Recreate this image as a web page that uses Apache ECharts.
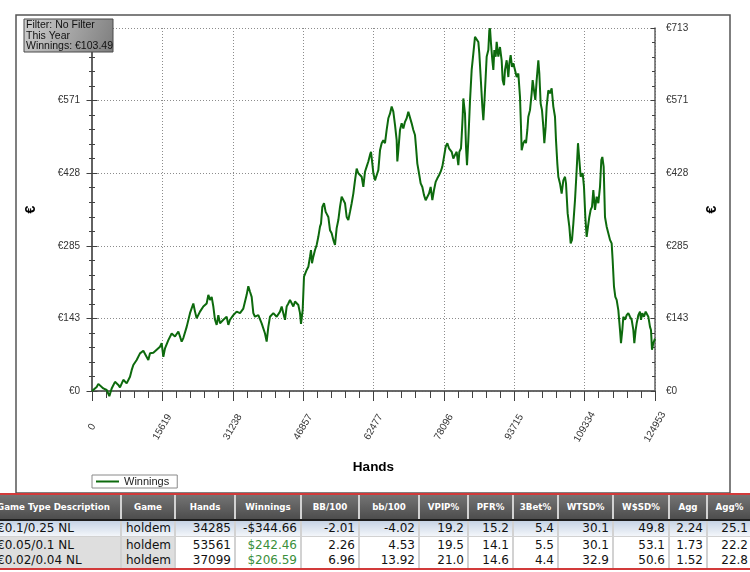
<!DOCTYPE html>
<html><head><meta charset="utf-8">
<script src="https://cdn.jsdelivr.net/npm/echarts@6/dist/echarts.min.js"></script>
<style>
html,body{margin:0;padding:0;width:750px;height:572px;overflow:hidden;background:#fff;}
#chart{position:absolute;left:0;top:0;width:750px;height:572px;}
#tbl{position:absolute;left:0;top:493px;width:750px;height:79px;overflow:hidden;background:#d2d2d2;font-family:"DejaVu Sans",Verdana,sans-serif;}
.cell{position:absolute;box-sizing:border-box;white-space:nowrap;overflow:hidden;}
</style></head><body>
<div id="chart"></div>
<div id="tbl"></div>
<script>
// ---- chart data ----
const hands = [0,296,1036,1405,1776,2515,3255,3847,4365,5105,5844,6214,6954,7694,8434,8804,9173,9913,10653,11393,12133,12502,12873,13612,14352,15092,15462,15832,16202,16942,17681,18421,19161,19531,19901,20270,21011,21750,22490,22860,23230,23970,24710,25450,25819,26189,26559,26929,27299,27669,28038,28408,29148,29888,30257,30628,31367,32107,32847,33587,34327,34696,35067,35437,35806,36176,36916,37656,38026,38396,38766,39135,39505,40245,40985,41725,42095,42464,42834,43204,43574,43944,44684,45054,45793,46164,46385,46756,47053,47643,48013,48383,48605,48827,49123,49493,49863,50232,50602,50824,51120,51490,51860,52082,52451,52822,53192,53561,53931,54301,54671,55041,55411,55781,56151,56521,56890,57261,57631,58000,58370,58740,59110,59480,59850,60220,60590,60960,61330,61699,61921,62217,62439,62809,63179,63549,63919,64289,64659,65028,65398,65768,66138,66508,66878,67248,67618,67766,67988,68358,68728,69097,69468,69838,70207,70577,70947,71317,71687,71909,72205,72575,72945,73315,73685,74055,74424,74795,75164,75534,75905,76274,76644,77015,77384,77754,78124,78494,78864,79234,79604,79826,80194,80564,80934,81304,81526,81896,82044,82266,82414,82784,83006,83228,83524,83893,84263,84633,85003,85373,85743,85965,86261,86631,86853,87074,87371,87593,87962,88184,88332,88554,88850,89072,89294,89590,89812,90181,90551,90921,91143,91439,91661,92031,92400,92622,92919,93215,93511,93881,94251,94620,94990,95212,95360,95730,96100,96322,96617,96839,97210,97580,97801,98097,98393,98689,99059,99281,99577,99873,100169,100391,100687,100908,101278,101649,102018,102388,102758,102980,103276,103498,103868,104238,104608,104978,105200,105570,105940,106236,106532,106827,107197,107567,107863,108159,108455,108899,109194,109490,109786,110082,110378,110674,110970,111265,111635,112005,112375,112745,113041,113263,113559,113855,114225,114594,114965,115334,115556,115852,116148,116444,116814,117184,117406,117702,117924,118294,118664,119033,119404,119774,120144,120365,120661,120883,121253,121623,121845,122141,122510,122881,123103,123472,123843,124064,124286,124582,124953];
const winnings = [0,2,8,14,12,5,2,-10,5,18,12,7,22,15,28,41,51,61,74,79,67,61,74,75,81,87,94,67,84,100,113,107,117,107,97,104,126,153,172,156,143,156,166,172,189,179,185,166,140,130,149,133,140,146,130,140,149,156,153,162,189,206,195,185,153,146,149,133,130,113,97,126,146,153,146,156,166,153,140,166,172,179,166,176,169,153,132,159,225,238,244,264,277,251,264,277,287,303,323,329,362,369,352,349,342,316,310,297,287,320,336,362,382,385,369,342,336,352,369,388,414,437,428,431,421,401,431,441,451,464,470,447,428,414,424,434,473,487,493,487,513,536,545,559,549,523,493,451,473,513,526,516,529,536,549,552,526,513,503,480,447,428,408,401,385,375,372,388,401,375,395,411,418,424,431,441,460,480,487,477,480,470,457,464,470,444,470,477,500,539,575,545,480,444,493,570,631,663,696,699,686,663,617,559,532,565,617,657,670,709,713,683,650,631,670,657,686,657,676,650,611,601,631,650,617,644,660,637,644,631,617,624,578,519,473,487,493,487,513,539,552,585,611,591,572,611,650,624,565,552,519,487,519,559,591,585,595,559,539,493,447,421,408,388,414,421,408,349,323,290,297,329,375,434,487,454,421,428,401,342,303,323,342,356,362,395,356,382,369,401,454,460,441,342,323,310,297,290,257,205,185,179,159,120,94,120,146,140,149,153,146,140,120,94,120,133,149,156,140,153,146,156,159,146,126,120,81,94,103];
const seriesName = 'Winnings';
const xTickLabels = ['0','15619','31238','46857','62477','78096','93715','109334','124953'];
const yTickLabels = ['€0','€143','€285','€428','€571','€713'];
const xMax = 124953, yMax = 713.4;
const infoLines = ['Filter: No Filter','This Year','Winnings: €103.49'];

// ---- table data ----
const tableHeaders = ['Game Type Description','Game','Hands','Winnings','BB/100','bb/100','VPIP%','PFR%','3Bet%','WTSD%','W$SD%','Agg','Agg%'];
const tableRows = [
  ['€0.1/0.25 NL','holdem','34285','-$344.66','-2.01','-4.02','19.2','15.2','5.4','30.1','49.8','2.24','25.1'],
  ['€0.05/0.1 NL','holdem','53561','$242.46','2.26','4.53','19.5','14.1','5.5','30.1','53.1','1.73','22.2'],
  ['€0.02/0.04 NL','holdem','37099','$206.59','6.96','13.92','21.0','14.6','4.4','32.9','50.6','1.52','22.8']
];

const xInterval = xMax / (xTickLabels.length - 1);
const yInterval = yMax / (yTickLabels.length - 1);
const pts = hands.map((h, i) => [h, winnings[i]]);
const axisColor = '#606060';
const lblFont = 'Liberation Sans';

const xLab = v => xTickLabels[Math.round(v / xInterval)] ?? '';
const yLab = v => yTickLabels[Math.round(v / yInterval)] ?? '';

function xAx(pos, opts) {
  return Object.assign({
    type: 'value', position: pos, min: 0, max: xMax, interval: xInterval,
    axisLine: {show: true, lineStyle: {color: axisColor, width: 1.5}},
    splitLine: {show: false}, axisLabel: {show: false}
  }, opts);
}
function yAx(pos, opts) {
  return Object.assign({
    type: 'value', position: pos, min: 0, max: yMax, interval: yInterval,
    axisLine: {show: true, lineStyle: {color: axisColor, width: 1.5}},
    splitLine: {show: false}, axisLabel: {show: false}
  }, opts);
}

const chart = echarts.init(document.getElementById('chart'), null, {renderer: 'canvas'});
chart.setOption({
  animation: false,
  backgroundColor: '#fff',
  grid: {left: 92, right: 95, top: 28, bottom: 181, outerBoundsMode: 'none'},
  legend: {
    show: true, left: 92, top: 475, orient: 'horizontal',
    borderColor: '#8a8a8a', borderWidth: 1, padding: [1, 8, 1, 4],
    itemWidth: 23, itemHeight: 2, icon: 'rect',
    textStyle: {fontSize: 11, color: '#222', fontFamily: lblFont},
    data: [seriesName]
  },
  xAxis: [
    xAx('bottom', {
      name: 'Hands', nameLocation: 'middle', nameGap: 69,
      nameTextStyle: {fontSize: 13.5, fontWeight: 'bold', color: '#000', fontFamily: lblFont},
      axisTick: {show: true, inside: false, length: 10, lineStyle: {color: '#404040'}},
      minorTick: {show: true, splitNumber: 5, length: 7, lineStyle: {color: '#404040'}},
      axisLabel: {show: true, rotate: 60, margin: 36, align: 'center', verticalAlign: 'middle',
        fontSize: 10, color: '#333', fontFamily: lblFont, formatter: xLab, showMinLabel: true, showMaxLabel: true},
      splitLine: {show: true, lineStyle: {color: '#8c8c8c', type: [1, 2], width: 1}}
    }),
    xAx('top', {
      axisTick: {show: true, inside: true, length: 5, lineStyle: {color: '#404040'}},
      minorTick: {show: true, splitNumber: 5, length: 3, lineStyle: {color: '#404040'}}
    })
  ],
  yAxis: [
    yAx('left', {
      name: '€', nameLocation: 'middle', nameGap: 54, nameRotate: 90,
      nameTextStyle: {fontSize: 14, fontWeight: 'bold', color: '#000', fontFamily: lblFont},
      axisTick: {show: true, inside: false, length: 5.5, lineStyle: {color: '#404040'}},
      minorTick: {show: true, splitNumber: 5, length: 3, lineStyle: {color: '#404040'}},
      axisLabel: {show: true, margin: 12, fontSize: 10, color: '#333', fontFamily: lblFont, formatter: yLab},
      splitLine: {show: true, lineStyle: {color: '#8c8c8c', type: [1, 2], width: 1}}
    }),
    yAx('right', {
      name: '€', nameLocation: 'middle', nameGap: 50, nameRotate: 90,
      nameTextStyle: {fontSize: 14, fontWeight: 'bold', color: '#000', fontFamily: lblFont},
      axisTick: {show: true, inside: false, length: 4, lineStyle: {color: '#404040'}},
      minorTick: {show: true, splitNumber: 5, length: 3, lineStyle: {color: '#404040'}},
      axisLabel: {show: true, margin: 11, fontSize: 10, color: '#333', fontFamily: lblFont, formatter: yLab}
    }),
    yAx('left', {
      axisTick: {show: true, inside: true, length: 5.5, lineStyle: {color: '#404040'}},
      minorTick: {show: true, splitNumber: 5, length: 3, lineStyle: {color: '#404040'}}
    }),
    yAx('right', {
      axisTick: {show: true, inside: true, length: 4, lineStyle: {color: '#404040'}},
      minorTick: {show: true, splitNumber: 5, length: 3, lineStyle: {color: '#404040'}}
    })
  ],
  series: [{
    name: seriesName, type: 'line', xAxisIndex: 0, yAxisIndex: 0,
    data: pts, showSymbol: false, symbol: 'none', clip: false,
    color: '#0d6a0d',
    lineStyle: {color: '#0d6a0d', width: 2}, z: 5
  }],
  graphic: [
    {type: 'rect', z: -10, silent: true, shape: {x: 16, y: 15, width: 714, height: 478},
      style: {fill: 'none', stroke: '#555', lineWidth: 1.5}},
    {type: 'rect', z: 100, silent: true, shape: {x: 24, y: 19, width: 89, height: 33},
      style: {fill: new echarts.graphic.LinearGradient(0, 0, 1, 1, [
        {offset: 0, color: '#cfcfcf'}, {offset: 1, color: '#7d7d7d'}]), stroke: '#4a4a4a', lineWidth: 1}},
    {type: 'text', z: 101, silent: true,
      style: {text: infoLines.join('\n'), x: 26, y: 20, fontSize: 10.5, lineHeight: 10.6,
        fontFamily: lblFont, fill: '#111', verticalAlign: 'top', align: 'left'}}
  ]
});

// ---- table ----
const tbl = document.getElementById('tbl');
const colL = [-8,122,176,236,302,360,420,469,514,559,614,670,708];
const colR = [120,174,234,300,358,418,467,512,557,612,668,706,751];
const dataAlign = ['left','left','right','right','right','right','right','right','right','right','right','right','right'];
function addDiv(style, text) {
  const d = document.createElement('div');
  d.className = 'cell';
  Object.assign(d.style, style);
  if (text !== undefined) d.textContent = text;
  tbl.appendChild(d);
  return d;
}
addDiv({left: '0px', top: '0px', width: '750px', height: '2px', background: '#d23a3a'});
tableHeaders.forEach((h, i) => {
  addDiv({left: colL[i] + 'px', top: '2px', width: (colR[i] - colL[i]) + 'px', height: '24px',
    background: 'linear-gradient(#747474,#4d4d4d)', color: '#fff', fontWeight: 'bold', fontSize: '8.7px',
    lineHeight: '24px', textAlign: i === 0 ? 'left' : 'center', paddingLeft: i === 0 ? '5px' : '0px'}, h);
});
addDiv({left: '0px', top: '26px', width: '750px', height: '1.5px', background: '#1e1e1e'});
const rowTop = [27.5, 43.5, 60];
const rowH = [15.5, 16, 15];
tableRows.forEach((row, r) => {
  row.forEach((v, i) => {
    let bg = '#fff';
    if (r === 0) bg = 'linear-gradient(#c6d3e5,#f3f6fa)';
    else if (i < 2) bg = '#dedede';
    let color = '#111';
    if (i === 3 && v.charAt(0) !== '-') color = '#3a8f3a';
    addDiv({left: colL[i] + 'px', top: rowTop[r] + 'px', width: (colR[i] - colL[i]) + 'px', height: rowH[r] + 'px',
      background: bg, color: color, fontSize: '12px', lineHeight: rowH[r] + 'px', textAlign: dataAlign[i],
      paddingLeft: i === 0 ? '5px' : (i === 1 ? '4px' : '0px'), paddingRight: i >= 2 ? '3px' : '0px'}, v);
  });
});
addDiv({left: '0px', top: '75px', width: '750px', height: '2px', background: '#d23a3a'});
addDiv({left: '0px', top: '77px', width: '750px', height: '2px', background: '#fff'});
</script>
</body></html>
